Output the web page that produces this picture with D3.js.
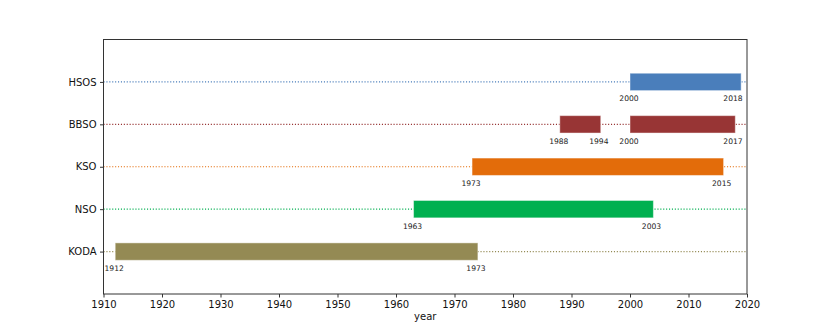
<!DOCTYPE html>
<html><head><meta charset="utf-8">
<script src="https://cdn.jsdelivr.net/npm/d3@7"></script>
<style>body{margin:0;background:#fff}svg{display:block}text{font-family:"DejaVu Sans",sans-serif}</style>
</head><body>
<script>
// Data
const stations = ["KODA", "NSO", "KSO", "BBSO", "HSOS"];
const stationColors = ["#948a54", "#00b050", "#e36c0a", "#983535", "#4a7ebb"];
const segStation = ["KODA", "NSO", "KSO", "BBSO", "BBSO", "HSOS"];
const segStart = [1912, 1963, 1973, 1988, 2000, 2000];
const segEnd = [1973, 2003, 2015, 1994, 2017, 2018];
const xTicks = [1910, 1920, 1930, 1940, 1950, 1960, 1970, 1980, 1990, 2000, 2010, 2020];

const W = 830, H = 331;
const m = {l: 103.5, r: 83, t: 39.5, b: 37};
const svg = d3.select("body").append("svg").attr("width", W).attr("height", H);

const x = d3.scaleLinear().domain([1910, 2020]).range([m.l, W - m.r]);
const y = d3.scaleLinear().domain([-1, stations.length]).range([H - m.b, m.t]);
const color = d3.scaleOrdinal().domain(stations).range(stationColors);
const yPos = s => y(stations.indexOf(s));
const barH = y(0) - y(0.41);

// dotted guide lines
svg.append("g").selectAll("line").data(stations).join("line")
  .attr("x1", x(1910)).attr("x2", x(2020))
  .attr("y1", d => yPos(d)).attr("y2", d => yPos(d))
  .attr("stroke", d => color(d)).attr("stroke-width", 1.1)
  .attr("stroke-dasharray", "1.1,1.8");

const segs = segStation.map((s, i) => ({s, a: segStart[i], b: segEnd[i]}));

// bars (span start year through end of end year)
svg.append("g").selectAll("rect").data(segs).join("rect")
  .attr("x", d => x(d.a)).attr("width", d => x(d.b + 1) - x(d.a))
  .attr("y", d => yPos(d.s) - barH / 2).attr("height", barH)
  .attr("fill", d => color(d.s))
  .attr("stroke", "#ffffff").attr("stroke-opacity", 0.45).attr("stroke-width", 1);

// year labels
const lab = svg.append("g").attr("font-size", "7.6px").attr("fill", "#222").attr("text-anchor", "middle");
segs.forEach(d => {
  lab.append("text").attr("x", x(d.a) - 1).attr("y", yPos(d.s) + 19.5).text(d.a);
  lab.append("text").attr("x", Math.min(x(d.b + 0.5) + 1, x(2020) - 14)).attr("y", yPos(d.s) + 19.5).text(d.b);
});

// axes
const xAxis = d3.axisBottom(x).tickValues(xTicks).tickFormat(d3.format("d")).tickSize(3.5).tickPadding(3.5);
const gx = svg.append("g").attr("transform", `translate(0,${H - m.b})`).call(xAxis);
const yAxis = d3.axisLeft(y).tickValues(d3.range(stations.length)).tickFormat(i => stations[i]).tickSize(3.5).tickPadding(3.5);
const gy = svg.append("g").attr("transform", `translate(${m.l},0)`).call(yAxis);
[gx, gy].forEach(g => {
  g.select(".domain").remove();
  g.selectAll("line").attr("stroke", "#333");
  g.selectAll("text").attr("font-family", "DejaVu Sans").attr("font-size", "10px").attr("fill", "#111");
});

// frame
svg.append("rect").attr("x", m.l).attr("y", m.t).attr("width", W - m.r - m.l).attr("height", H - m.b - m.t)
  .attr("fill", "none").attr("stroke", "#333").attr("stroke-width", 1);

svg.append("text").attr("x", (m.l + W - m.r) / 2).attr("y", 320).attr("text-anchor", "middle")
  .attr("font-size", "10px").attr("fill", "#111").text("year");
</script>
</body></html>
